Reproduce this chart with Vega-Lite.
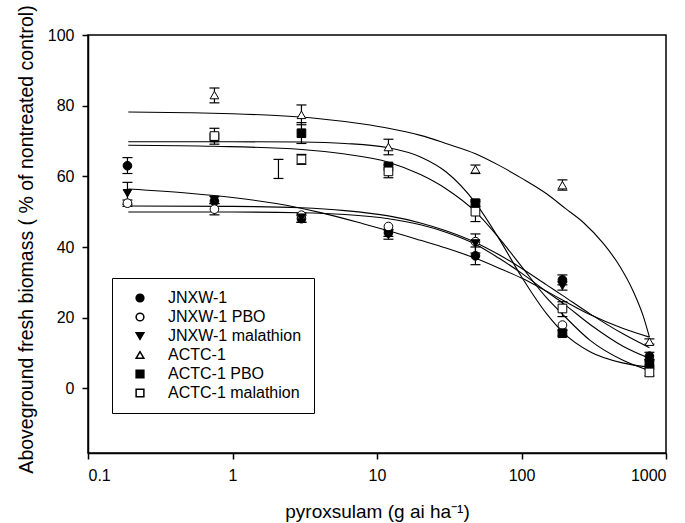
{
  "$schema": "https://vega.github.io/schema/vega-lite/v6.json",
  "width": 578,
  "height": 418,
  "autosize": "none",
  "padding": {"left": 88, "top": 35, "right": 19, "bottom": 70},
  "background": "white",
  "config": {
    "view": {"stroke": "black", "strokeWidth": 1.5},
    "font": "Liberation Sans",
    "axis": {
      "domainColor": "black", "domainWidth": 1.5, "tickColor": "black", "tickWidth": 1.5, "tickSize": 6,
      "labelFont": "Liberation Sans", "labelFontSize": 16, "labelColor": "black",
      "titleFont": "Liberation Sans", "titleFontWeight": "normal", "titleColor": "black", "grid": false
    }
  },
  "datasets": {
    "obs": [
      {"series": "JNXW-1", "dose": 0.1875, "mean": 63.0, "lo": 60.8, "hi": 65.3},
      {"series": "JNXW-1", "dose": 0.75, "mean": 53.0, "lo": null, "hi": null},
      {"series": "JNXW-1", "dose": 3, "mean": 48.0, "lo": 47.0, "hi": 49.0},
      {"series": "JNXW-1", "dose": 12, "mean": 44.0, "lo": 43.0, "hi": 45.0},
      {"series": "JNXW-1", "dose": 48, "mean": 37.5, "lo": 35.0, "hi": 40.0},
      {"series": "JNXW-1", "dose": 192, "mean": 30.7, "lo": 29.3, "hi": 32.1},
      {"series": "JNXW-1", "dose": 768, "mean": 9.1, "lo": 8.0, "hi": 10.2},
      {"series": "JNXW-1 PBO", "dose": 0.1875, "mean": 52.4, "lo": 51.5, "hi": 53.3},
      {"series": "JNXW-1 PBO", "dose": 0.75, "mean": 50.7, "lo": 49.1, "hi": 52.3},
      {"series": "JNXW-1 PBO", "dose": 3, "mean": 49.0, "lo": null, "hi": null},
      {"series": "JNXW-1 PBO", "dose": 12, "mean": 45.8, "lo": null, "hi": null},
      {"series": "JNXW-1 PBO", "dose": 48, "mean": 41.5, "lo": null, "hi": null},
      {"series": "JNXW-1 PBO", "dose": 192, "mean": 17.9, "lo": null, "hi": null},
      {"series": "JNXW-1 PBO", "dose": 768, "mean": 6.5, "lo": null, "hi": null},
      {"series": "JNXW-1 malathion", "dose": 0.1875, "mean": 55.2, "lo": 52.1, "hi": 58.3},
      {"series": "JNXW-1 malathion", "dose": 0.75, "mean": 53.3, "lo": 52.3, "hi": 54.3},
      {"series": "JNXW-1 malathion", "dose": 3, "mean": 48.3, "lo": 47.0, "hi": 49.6},
      {"series": "JNXW-1 malathion", "dose": 12, "mean": 43.5, "lo": 42.2, "hi": 44.8},
      {"series": "JNXW-1 malathion", "dose": 48, "mean": 41.0, "lo": 38.3, "hi": 43.7},
      {"series": "JNXW-1 malathion", "dose": 192, "mean": 29.0, "lo": 27.8, "hi": 30.2},
      {"series": "JNXW-1 malathion", "dose": 768, "mean": 6.5, "lo": null, "hi": null},
      {"series": "ACTC-1", "dose": 0.75, "mean": 83.0, "lo": 80.8, "hi": 85.0},
      {"series": "ACTC-1", "dose": 3, "mean": 77.4, "lo": 74.6, "hi": 80.2},
      {"series": "ACTC-1", "dose": 12, "mean": 68.3, "lo": 66.1, "hi": 70.5},
      {"series": "ACTC-1", "dose": 48, "mean": 62.0, "lo": 60.8, "hi": 63.2},
      {"series": "ACTC-1", "dose": 192, "mean": 57.5, "lo": 56.1, "hi": 59.0},
      {"series": "ACTC-1", "dose": 768, "mean": 13.2, "lo": 12.5, "hi": 14.0},
      {"series": "ACTC-1 PBO", "dose": 0.75, "mean": 71.0, "lo": null, "hi": null},
      {"series": "ACTC-1 PBO", "dose": 3, "mean": 72.2, "lo": 69.3, "hi": 75.2},
      {"series": "ACTC-1 PBO", "dose": 12, "mean": 62.8, "lo": null, "hi": null},
      {"series": "ACTC-1 PBO", "dose": 48, "mean": 52.4, "lo": 51.5, "hi": 53.3},
      {"series": "ACTC-1 PBO", "dose": 192, "mean": 15.6, "lo": 14.8, "hi": 16.4},
      {"series": "ACTC-1 PBO", "dose": 768, "mean": 7.1, "lo": 6.0, "hi": 8.2},
      {"series": "ACTC-1 malathion", "dose": 0.75, "mean": 71.4, "lo": 69.1, "hi": 73.6},
      {"series": "ACTC-1 malathion", "dose": 3, "mean": 64.8, "lo": 63.4, "hi": 66.2},
      {"series": "ACTC-1 malathion", "dose": 12, "mean": 61.4, "lo": 59.6, "hi": 63.2},
      {"series": "ACTC-1 malathion", "dose": 48, "mean": 50.0, "lo": 47.2, "hi": 52.8},
      {"series": "ACTC-1 malathion", "dose": 192, "mean": 22.6, "lo": 20.3, "hi": 24.5},
      {"series": "ACTC-1 malathion", "dose": 768, "mean": 4.5, "lo": 3.5, "hi": 5.5},
      {"series": "ACTC-1 malathion", "dose": 2.08, "mean": null, "lo": 59.4, "hi": 64.8}
    ],
    "curves": [
      {"series": "ACTC-1", "dose": 0.19, "value": 78.2},
      {"series": "ACTC-1", "dose": 0.5, "value": 78.0},
      {"series": "ACTC-1", "dose": 1, "value": 77.7},
      {"series": "ACTC-1", "dose": 2, "value": 77.2},
      {"series": "ACTC-1", "dose": 4, "value": 76.3},
      {"series": "ACTC-1", "dose": 8, "value": 74.8},
      {"series": "ACTC-1", "dose": 12, "value": 73.6},
      {"series": "ACTC-1", "dose": 20, "value": 71.6},
      {"series": "ACTC-1", "dose": 30, "value": 69.3},
      {"series": "ACTC-1", "dose": 48, "value": 66.4},
      {"series": "ACTC-1", "dose": 70, "value": 63.1},
      {"series": "ACTC-1", "dose": 100, "value": 59.5},
      {"series": "ACTC-1", "dose": 150, "value": 55.0},
      {"series": "ACTC-1", "dose": 200, "value": 51.0},
      {"series": "ACTC-1", "dose": 267, "value": 47.0},
      {"series": "ACTC-1", "dose": 368, "value": 41.0},
      {"series": "ACTC-1", "dose": 480, "value": 34.5},
      {"series": "ACTC-1", "dose": 593, "value": 27.5},
      {"series": "ACTC-1", "dose": 695, "value": 20.5},
      {"series": "ACTC-1", "dose": 768, "value": 14.5},
      {"series": "ACTC-1 PBO", "dose": 0.19, "value": 69.8},
      {"series": "ACTC-1 PBO", "dose": 1, "value": 69.8},
      {"series": "ACTC-1 PBO", "dose": 3, "value": 69.7},
      {"series": "ACTC-1 PBO", "dose": 6, "value": 69.3},
      {"series": "ACTC-1 PBO", "dose": 12, "value": 68.1},
      {"series": "ACTC-1 PBO", "dose": 20, "value": 65.5},
      {"series": "ACTC-1 PBO", "dose": 30, "value": 61.3},
      {"series": "ACTC-1 PBO", "dose": 48, "value": 52.5},
      {"series": "ACTC-1 PBO", "dose": 70, "value": 42.3},
      {"series": "ACTC-1 PBO", "dose": 100, "value": 31.6},
      {"series": "ACTC-1 PBO", "dose": 150, "value": 21.0},
      {"series": "ACTC-1 PBO", "dose": 192, "value": 16.0},
      {"series": "ACTC-1 PBO", "dose": 300, "value": 10.3},
      {"series": "ACTC-1 PBO", "dose": 500, "value": 7.2},
      {"series": "ACTC-1 PBO", "dose": 768, "value": 6.0},
      {"series": "ACTC-1 malathion", "dose": 0.19, "value": 68.8},
      {"series": "ACTC-1 malathion", "dose": 0.75, "value": 68.5},
      {"series": "ACTC-1 malathion", "dose": 3, "value": 67.6},
      {"series": "ACTC-1 malathion", "dose": 6, "value": 66.3},
      {"series": "ACTC-1 malathion", "dose": 12, "value": 64.0},
      {"series": "ACTC-1 malathion", "dose": 20, "value": 60.5},
      {"series": "ACTC-1 malathion", "dose": 30, "value": 56.5},
      {"series": "ACTC-1 malathion", "dose": 48, "value": 50.0},
      {"series": "ACTC-1 malathion", "dose": 70, "value": 42.5},
      {"series": "ACTC-1 malathion", "dose": 100, "value": 34.5},
      {"series": "ACTC-1 malathion", "dose": 150, "value": 25.5},
      {"series": "ACTC-1 malathion", "dose": 192, "value": 21.0},
      {"series": "ACTC-1 malathion", "dose": 300, "value": 13.5},
      {"series": "ACTC-1 malathion", "dose": 500, "value": 8.0},
      {"series": "ACTC-1 malathion", "dose": 768, "value": 5.0},
      {"series": "JNXW-1", "dose": 0.19, "value": 56.4},
      {"series": "JNXW-1", "dose": 0.5, "value": 55.2},
      {"series": "JNXW-1", "dose": 1, "value": 54.0},
      {"series": "JNXW-1", "dose": 2, "value": 52.3},
      {"series": "JNXW-1", "dose": 4, "value": 49.8},
      {"series": "JNXW-1", "dose": 8, "value": 46.6},
      {"series": "JNXW-1", "dose": 12, "value": 44.6},
      {"series": "JNXW-1", "dose": 20, "value": 41.9},
      {"series": "JNXW-1", "dose": 30, "value": 39.7},
      {"series": "JNXW-1", "dose": 48, "value": 36.8},
      {"series": "JNXW-1", "dose": 70, "value": 34.0},
      {"series": "JNXW-1", "dose": 100, "value": 31.2},
      {"series": "JNXW-1", "dose": 150, "value": 27.4},
      {"series": "JNXW-1", "dose": 192, "value": 25.0},
      {"series": "JNXW-1", "dose": 300, "value": 20.8},
      {"series": "JNXW-1", "dose": 500, "value": 17.0},
      {"series": "JNXW-1", "dose": 768, "value": 14.5},
      {"series": "JNXW-1 PBO", "dose": 0.19, "value": 51.6},
      {"series": "JNXW-1 PBO", "dose": 1, "value": 51.5},
      {"series": "JNXW-1 PBO", "dose": 3, "value": 51.1},
      {"series": "JNXW-1 PBO", "dose": 6, "value": 50.3},
      {"series": "JNXW-1 PBO", "dose": 12, "value": 48.8},
      {"series": "JNXW-1 PBO", "dose": 20, "value": 46.8},
      {"series": "JNXW-1 PBO", "dose": 30, "value": 44.6},
      {"series": "JNXW-1 PBO", "dose": 48, "value": 41.3},
      {"series": "JNXW-1 PBO", "dose": 70, "value": 37.8},
      {"series": "JNXW-1 PBO", "dose": 100, "value": 34.0},
      {"series": "JNXW-1 PBO", "dose": 150, "value": 29.2},
      {"series": "JNXW-1 PBO", "dose": 192, "value": 26.3},
      {"series": "JNXW-1 PBO", "dose": 300, "value": 21.0},
      {"series": "JNXW-1 PBO", "dose": 500, "value": 15.5},
      {"series": "JNXW-1 PBO", "dose": 768, "value": 11.5},
      {"series": "JNXW-1 malathion", "dose": 0.19, "value": 49.9},
      {"series": "JNXW-1 malathion", "dose": 1, "value": 49.9},
      {"series": "JNXW-1 malathion", "dose": 3, "value": 49.7},
      {"series": "JNXW-1 malathion", "dose": 6, "value": 49.2},
      {"series": "JNXW-1 malathion", "dose": 12, "value": 48.0},
      {"series": "JNXW-1 malathion", "dose": 20, "value": 46.3},
      {"series": "JNXW-1 malathion", "dose": 30, "value": 44.2},
      {"series": "JNXW-1 malathion", "dose": 48, "value": 40.8},
      {"series": "JNXW-1 malathion", "dose": 70, "value": 36.8},
      {"series": "JNXW-1 malathion", "dose": 100, "value": 32.6},
      {"series": "JNXW-1 malathion", "dose": 150, "value": 27.3},
      {"series": "JNXW-1 malathion", "dose": 192, "value": 24.2},
      {"series": "JNXW-1 malathion", "dose": 300, "value": 18.0},
      {"series": "JNXW-1 malathion", "dose": 500, "value": 12.0},
      {"series": "JNXW-1 malathion", "dose": 768, "value": 8.5}
    ]
  },
  "layer": [
    {
      "data": {"name": "curves"},
      "mark": {"type": "line", "color": "black", "strokeWidth": 1.1, "interpolate": "monotone"},
      "encoding": {
        "x": {"field": "dose", "type": "quantitative",
          "scale": {"type": "log", "domain": [0.1, 1000], "nice": false},
          "axis": {"values": [0.1, 1, 10, 100, 1000], "labelExpr": "datum.value < 1 ? '0.1' : format(datum.value, 'd')",
            "labelPadding": 8, "title": "pyroxsulam (g ai ha⁻¹)", "titleFontSize": 19, "titlePadding": 19}},
        "y": {"field": "value", "type": "quantitative",
          "scale": {"domain": [-18.3, 100], "nice": false, "zero": false},
          "axis": {"values": [0, 20, 40, 60, 80, 100], "labelPadding": 8,
            "title": "Aboveground fresh biomass ( % of nontreated control)", "titleFontSize": 19.5, "titlePadding": 11, "titleY": 204}},
        "detail": {"field": "series"}
      }
    },
    {
      "data": {"name": "obs"},
      "mark": {"type": "rule", "color": "black", "strokeWidth": 1.2},
      "encoding": {
        "x": {"field": "dose", "type": "quantitative"},
        "y": {"field": "lo", "type": "quantitative"},
        "y2": {"field": "hi"}
      }
    },
    {
      "data": {"name": "obs"},
      "mark": {"type": "point", "shape": "M-1,0L1,0", "size": 100, "stroke": "black", "strokeWidth": 1.2, "opacity": 1},
      "encoding": {
        "x": {"field": "dose", "type": "quantitative"},
        "y": {"field": "lo", "type": "quantitative"}
      }
    },
    {
      "data": {"name": "obs"},
      "mark": {"type": "point", "shape": "M-1,0L1,0", "size": 100, "stroke": "black", "strokeWidth": 1.2, "opacity": 1},
      "encoding": {
        "x": {"field": "dose", "type": "quantitative"},
        "y": {"field": "hi", "type": "quantitative"}
      }
    },
    {
      "data": {"name": "obs"},
      "mark": {"type": "point", "filled": true, "size": 75, "stroke": "black", "strokeWidth": 1, "opacity": 1},
      "encoding": {
        "x": {"field": "dose", "type": "quantitative"},
        "y": {"field": "mean", "type": "quantitative"},
        "shape": {"field": "series", "type": "nominal",
          "scale": {"domain": ["JNXW-1", "JNXW-1 PBO", "JNXW-1 malathion", "ACTC-1", "ACTC-1 PBO", "ACTC-1 malathion"],
            "range": ["circle", "circle", "triangle-down", "triangle-up", "square", "square"]},
          "legend": {"orient": "none", "legendX": 24, "legendY": 243, "title": null,
            "strokeColor": "black", "padding": 12, "symbolOffset": 8, "labelOffset": 20,
            "labelFontSize": 16, "labelFont": "Liberation Sans", "labelColor": "black", "rowPadding": 3,
            "symbolSize": 60,
            "encode": {"symbols": {"update": {"stroke": {"value": "black"}, "strokeWidth": {"value": 1}}}}}},
        "fill": {"field": "series", "type": "nominal",
          "scale": {"domain": ["JNXW-1", "JNXW-1 PBO", "JNXW-1 malathion", "ACTC-1", "ACTC-1 PBO", "ACTC-1 malathion"],
            "range": ["black", "white", "black", "white", "black", "white"]},
          "legend": {"orient": "none", "legendX": 24, "legendY": 243, "title": null,
            "strokeColor": "black", "padding": 12, "symbolOffset": 8, "labelOffset": 20,
            "labelFontSize": 16, "labelFont": "Liberation Sans", "labelColor": "black", "rowPadding": 3,
            "symbolSize": 60,
            "encode": {"symbols": {"update": {"stroke": {"value": "black"}, "strokeWidth": {"value": 1}}}}}}
      }
    }
  ]
}
